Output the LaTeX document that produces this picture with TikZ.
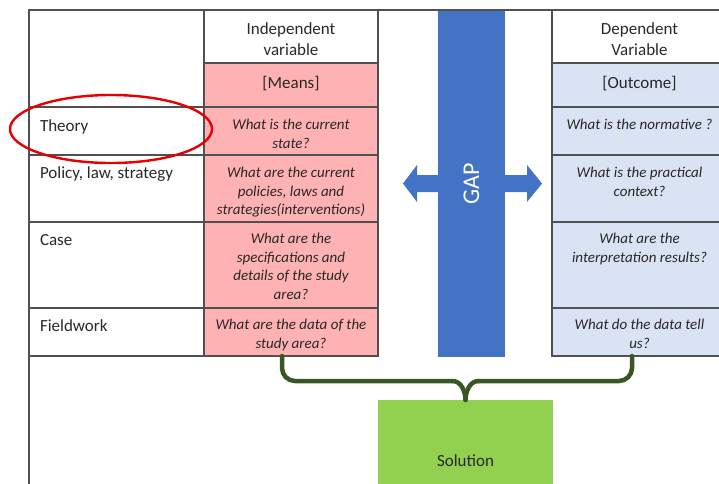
\documentclass[tikz,border=0pt]{standalone}
\usepackage{fontspec}
\setmainfont{Carlito}
\usetikzlibrary{shapes.geometric}

\definecolor{gridline}{RGB}{80,80,80}
\definecolor{inktext}{RGB}{40,40,40}
\definecolor{meanspink}{RGB}{255,178,180}
\definecolor{outblue}{RGB}{218,227,243}
\definecolor{gapblue}{RGB}{68,114,196}
\definecolor{solgreen}{RGB}{146,208,80}
\definecolor{bracegreen}{RGB}{56,87,35}
\definecolor{markred}{RGB}{230,0,0}

\newcommand{\hdrsize}{\fontsize{17}{21}\selectfont}
\newcommand{\qsize}{\fontsize{15}{18.5}\selectfont\itshape}
% cell content: width, height, top padding, alignment + font, text
\newcommand{\cellbody}[5]{\parbox[c][#2pt][t]{#1pt}{\vspace*{#3pt}#4\strut#5\par}}
\newcommand{\ctr}{\centering}
\newcommand{\lft}{\raggedright\leftskip=11pt}

\tikzset{
  cell/.style={draw=gridline, line width=1.3pt, inner sep=0pt, outer sep=0pt,
               anchor=north west, text=inktext},
  means/.style={cell, fill=meanspink},
  outcome/.style={cell, fill=outblue},
  frame/.style={draw=gridline, line width=1.3pt},
  brace/.style={draw=bracegreen, line width=4.5pt, line cap=round, line join=round},
}

\begin{document}
\begin{tikzpicture}[x=1pt, y=-1pt]
\useasboundingbox (0,0) rectangle (719,483);
\clip (0,0) rectangle (719,483);

% double-headed arrow behind the gap bar
\fill[gapblue] (403,183.5) -- (417,165) -- (417,175) -- (527,175) -- (527,165)
  -- (542,183.5) -- (527,202) -- (527,192) -- (417,192) -- (417,202) -- cycle;
\node[fill=gapblue, inner sep=0pt, minimum width=67pt, minimum height=347pt,
      anchor=north] (gap) at (471.5,10) {};
\node[rotate=90, text=white, font=\fontsize{24}{28}\selectfont] (gaplabel) at (gap.center) {GAP};

% row labels
\node[cell] (lt)  at (29,10)  {\cellbody{175}{97}{0}{\lft\hdrsize}{}};
\node[cell] (lth) at (29,107) {\cellbody{175}{48}{10}{\lft\hdrsize}{Theory}};
\node[cell] (lpo) at (29,155) {\cellbody{175}{67}{9}{\lft\hdrsize}{Policy, law, strategy}};
\node[cell] (lca) at (29,222) {\cellbody{175}{86}{9}{\lft\hdrsize}{Case}};
\node[cell] (lfi) at (29,308) {\cellbody{175}{48}{9}{\lft\hdrsize}{Fieldwork}};

% independent variable column
\node[cell]  (ih)  at (204,10)  {\cellbody{174}{53}{10}{\ctr\hdrsize}{Independent\\variable}};
\node[means] (im)  at (204,63)  {\cellbody{174}{44}{11}{\ctr\hdrsize}{[Means]}};
\node[means] (ith) at (204,107) {\cellbody{174}{48}{10}{\ctr\qsize}{What is the current\\state?}};
\node[means] (ipo) at (204,155) {\cellbody{174}{67}{10}{\ctr\qsize}{What are the current\\policies, laws and\\strategies(interventions)}};
\node[means] (ica) at (204,222) {\cellbody{174}{86}{9}{\ctr\qsize}{What are the\\specifications and\\details of the study\\area?}};
\node[means] (ifi) at (204,308) {\cellbody{174}{48}{9}{\ctr\qsize}{What are the data of the\\study area?}};

% dependent variable column
\node[cell]    (dh)  at (552,10)  {\cellbody{175}{53}{10}{\ctr\hdrsize}{Dependent\\Variable}};
\node[outcome] (dm)  at (552,63)  {\cellbody{175}{44}{11}{\ctr\hdrsize}{[Outcome]}};
\node[outcome] (dth) at (552,107) {\cellbody{175}{48}{10}{\ctr\qsize}{What is the normative ?}};
\node[outcome] (dpo) at (552,155) {\cellbody{175}{67}{10}{\ctr\qsize}{What is the practical\\context?}};
\node[outcome] (dca) at (552,222) {\cellbody{175}{86}{9}{\ctr\qsize}{What are the\\interpretation results?}};
\node[outcome] (dfi) at (552,308) {\cellbody{175}{48}{9}{\ctr\qsize}{What do the data tell\\us?}};

% outer frame: top edge across the gap and the long left edge
\draw[frame] (ih.north east) -- (dh.north west);
\draw[frame] (lfi.south west) -- ++(0,140);

% solution box
\node[fill=solgreen, inner sep=0pt, minimum width=175pt, minimum height=120pt,
      anchor=north, text=inktext, font=\hdrsize] (sol) at (465.5,400) {Solution};

% curly brace joining both columns into the solution
\draw[brace, rounded corners=13pt] ([xshift=-9pt]ifi.south) |- ([xshift=-13pt,yshift=19pt]sol.north);
\draw[brace] ([xshift=-13pt,yshift=19pt]sol.north) .. controls +(9,0) and +(0,-8) .. (sol.north);
\draw[brace, rounded corners=13pt] ([xshift=-7.5pt]dfi.south) |- ([xshift=13pt,yshift=19pt]sol.north);
\draw[brace] ([xshift=13pt,yshift=19pt]sol.north) .. controls +(-9,0) and +(0,-8) .. (sol.north);

% highlight ring round the theory row
\node[ellipse, draw=markred, line width=2.4pt, minimum width=202pt, minimum height=68pt,
      inner sep=0pt] (ring) at (111,129) {};
\end{tikzpicture}
\end{document}
